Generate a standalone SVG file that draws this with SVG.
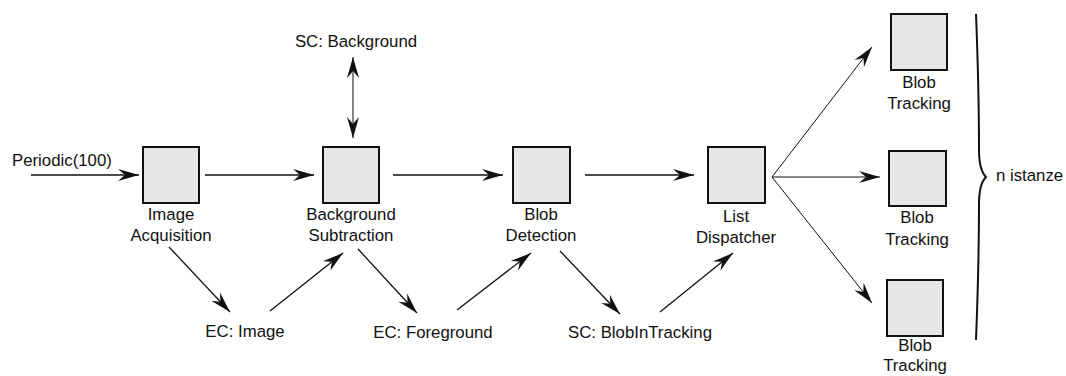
<svg xmlns="http://www.w3.org/2000/svg" width="1066" height="376" viewBox="0 0 1066 376">
<style>
text{font-family:"Liberation Sans",Arial,sans-serif;font-size:16.8px;fill:#111}
.c{text-anchor:middle}
.box{fill:#e6e6e6;stroke:#111;stroke-width:2}
.ln{stroke:#111;stroke-width:1.3;fill:none;marker-end:url(#ah)}
.thin{stroke:#111;stroke-width:1;fill:none;marker-end:url(#ah)}
</style>
<defs>
<marker id="ah" markerUnits="userSpaceOnUse" markerWidth="22" markerHeight="14" refX="21" refY="7" orient="auto-start-reverse" viewBox="0 0 22 14">
<path d="M0,1 L21,7 L0,13 L7,7 Z" fill="#111"/>
</marker>
</defs>
<rect width="1066" height="376" fill="#fff"/>
<g id="connectors">
<line class="ln" x1="31" y1="175" x2="139" y2="175"/>
<line class="ln" x1="205" y1="175" x2="314" y2="175"/>
<line class="ln" x1="393" y1="175" x2="503" y2="175"/>
<line class="ln" x1="585" y1="175" x2="694" y2="175"/>
<line class="ln" x1="353" y1="138" x2="353" y2="57" style="marker-start:url(#ah);stroke:#444"/>
<line class="ln" x1="169" y1="247" x2="230" y2="312"/>
<line class="ln" x1="270" y1="311" x2="343" y2="253"/>
<line class="ln" x1="358" y1="249" x2="417" y2="313"/>
<line class="ln" x1="457" y1="310" x2="531" y2="253"/>
<line class="ln" x1="560" y1="251" x2="620" y2="314"/>
<line class="ln" x1="660" y1="312" x2="733" y2="253"/>
<line class="thin" x1="772" y1="177" x2="872" y2="47"/>
<line class="thin" x1="772" y1="177" x2="880" y2="177"/>
<line class="thin" x1="772" y1="177" x2="872" y2="303"/>
</g>
<g id="periodic"><text x="12" y="166">Periodic(100)</text></g>
<g id="image-acquisition">
<rect class="box" x="143" y="147" width="56" height="56"/>
<text class="c" x="171" y="220">Image</text>
<text class="c" x="171" y="241">Acquisition</text>
</g>
<g id="background-subtraction">
<rect class="box" x="323" y="147" width="56" height="56"/>
<text class="c" x="351" y="220">Background</text>
<text class="c" x="351" y="241">Subtraction</text>
</g>
<g id="blob-detection">
<rect class="box" x="513" y="147" width="57" height="56"/>
<text class="c" x="541" y="220">Blob</text>
<text class="c" x="541" y="241">Detection</text>
</g>
<g id="list-dispatcher">
<rect class="box" x="708" y="147" width="57" height="56"/>
<text class="c" x="736" y="222">List</text>
<text class="c" x="736" y="243">Dispatcher</text>
</g>
<g id="sc-background"><text class="c" x="356" y="47">SC: Background</text></g>
<g id="ec-image"><text class="c" x="245" y="337">EC: Image</text></g>
<g id="ec-foreground"><text class="c" x="433" y="338">EC: Foreground</text></g>
<g id="sc-blobintracking"><text class="c" x="640" y="338">SC: BlobInTracking</text></g>
<g id="blob-tracking-1">
<rect class="box" x="891" y="14" width="56" height="56"/>
<text class="c" x="919" y="88">Blob</text>
<text class="c" x="919" y="109">Tracking</text>
</g>
<g id="blob-tracking-2">
<rect class="box" x="889" y="151" width="57" height="55"/>
<text class="c" x="917" y="223">Blob</text>
<text class="c" x="917" y="245">Tracking</text>
</g>
<g id="blob-tracking-3">
<rect class="box" x="887" y="280" width="56" height="56"/>
<text class="c" x="915" y="351">Blob</text>
<text class="c" x="915" y="371">Tracking</text>
</g>
<g id="n-istanze">
<path d="M976,14 Q979,90 979,150 Q979,170 986,177 Q979,184 979,204 Q979,264 976,340" fill="none" stroke="#111" stroke-width="2"/>
<text x="996" y="181">n istanze</text>
</g>
</svg>
